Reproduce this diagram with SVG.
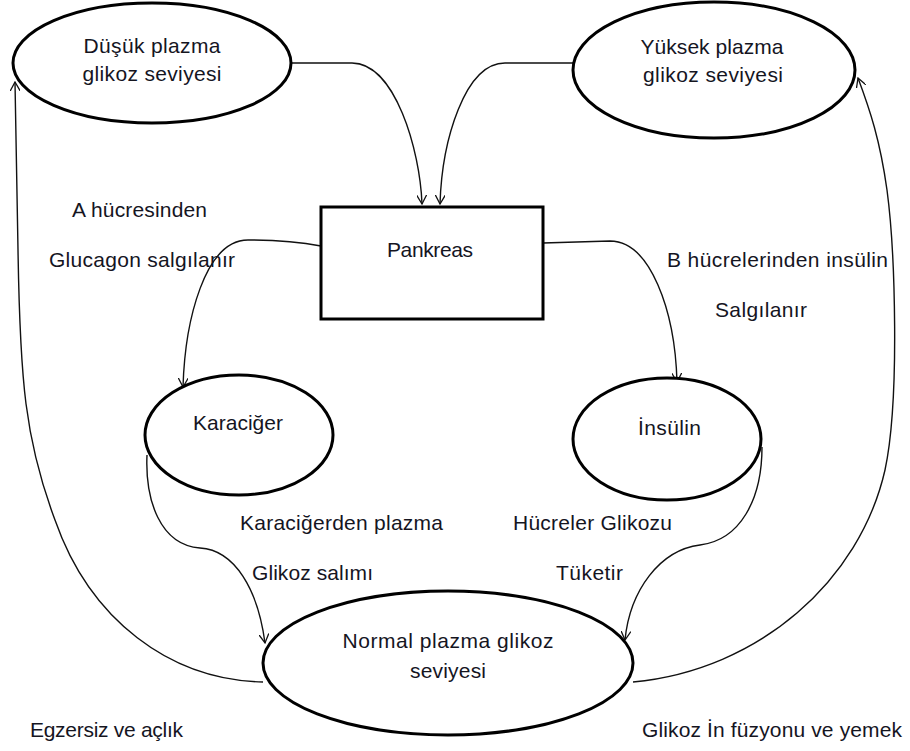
<svg xmlns="http://www.w3.org/2000/svg" width="910" height="751" viewBox="0 0 910 751">
  <style>
    .shape { fill: #ffffff; stroke: #000000; stroke-width: 3; }
    .link { fill: none; stroke: #111111; stroke-width: 1.4; }
    text { font-family: "Liberation Sans", Arial, sans-serif; font-size: 21px; fill: #15151f; }
    .c { text-anchor: middle; }
  </style>
  <defs>
    <marker id="arrow" viewBox="0 0 10 10" refX="9" refY="5" markerWidth="10" markerHeight="10" markerUnits="userSpaceOnUse" orient="auto">
      <path d="M0,0 L9,5 L0,10" fill="none" stroke="#111111" stroke-width="1.3"/>
    </marker>
  </defs>

  <rect width="910" height="751" fill="#ffffff"/>

  <!-- connectors -->
  <g id="connectors">
    <path class="link" d="M292,63 L352,63 C395,63 420,150 422,204" marker-end="url(#arrow)"/>
    <path class="link" d="M573,63 L505,63 C465,63 442,140 440,204" marker-end="url(#arrow)"/>
    <path class="link" d="M321,246 C300,242 270,240 248,240 C205,240 185,320 183,387" marker-end="url(#arrow)"/>
    <path class="link" d="M543,243 L610,241 C650,241 675,310 677,382" marker-end="url(#arrow)"/>
    <path class="link" d="M147,455 C145,500 160,545 200,548 C235,550 258,590 265,643" marker-end="url(#arrow)"/>
    <path class="link" d="M762,447 C762,500 740,540 700,545 C660,550 630,590 625,640" marker-end="url(#arrow)"/>
    <path class="link" d="M263,682 C170,680 90,620 55,520 C25,440 20,380 18,250 L15,82" marker-end="url(#arrow)"/>
    <path class="link" d="M633,682 C760,670 860,580 885,470 C900,400 895,250 887,190 C880,140 870,110 858,78" marker-end="url(#arrow)"/>
  </g>

  <!-- nodes -->
  <g id="low-glucose">
    <ellipse class="shape" cx="152" cy="63" rx="139" ry="60"/>
    <text class="c" x="152" y="53" textLength="137" lengthAdjust="spacing">Düşük plazma</text>
    <text class="c" x="152" y="81" textLength="139" lengthAdjust="spacing">glikoz seviyesi</text>
  </g>

  <g id="high-glucose">
    <ellipse class="shape" cx="714" cy="70" rx="141" ry="68"/>
    <text class="c" x="712" y="54" textLength="143" lengthAdjust="spacing">Yüksek plazma</text>
    <text class="c" x="713" y="82" textLength="140" lengthAdjust="spacing">glikoz seviyesi</text>
  </g>

  <g id="pancreas">
    <rect class="shape" x="321" y="207" width="222" height="112"/>
    <text x="387" y="257" textLength="86" lengthAdjust="spacing">Pankreas</text>
  </g>

  <g id="liver">
    <ellipse class="shape" cx="239" cy="435" rx="94" ry="60"/>
    <text x="193" y="430" textLength="90" lengthAdjust="spacing">Karaciğer</text>
  </g>

  <g id="insulin">
    <ellipse class="shape" cx="667" cy="439" rx="94" ry="61"/>
    <text x="638" y="435" textLength="63" lengthAdjust="spacing">İnsülin</text>
  </g>

  <g id="normal-glucose">
    <ellipse class="shape" cx="448" cy="663" rx="185" ry="72"/>
    <text class="c" x="448" y="648" textLength="211" lengthAdjust="spacing">Normal plazma glikoz</text>
    <text class="c" x="448" y="678" textLength="76" lengthAdjust="spacing">seviyesi</text>
  </g>

  <!-- labels -->
  <g id="labels">
    <text x="72" y="217" textLength="135" lengthAdjust="spacing">A hücresinden</text>
    <text x="49" y="267" textLength="186" lengthAdjust="spacing">Glucagon salgılanır</text>
    <text x="667" y="267" textLength="221" lengthAdjust="spacing">B hücrelerinden insülin</text>
    <text x="715" y="317" textLength="92" lengthAdjust="spacing">Salgılanır</text>
    <text x="240" y="530" textLength="203" lengthAdjust="spacing">Karaciğerden plazma</text>
    <text x="252" y="580" textLength="121" lengthAdjust="spacing">Glikoz salımı</text>
    <text x="513" y="530" textLength="159" lengthAdjust="spacing">Hücreler Glikozu</text>
    <text x="556" y="580" textLength="67" lengthAdjust="spacing">Tüketir</text>
    <text x="30" y="737" textLength="153" lengthAdjust="spacing">Egzersiz ve açlık</text>
    <text x="642" y="737" textLength="260" lengthAdjust="spacing">Glikoz İn füzyonu ve yemek</text>
  </g>
</svg>
